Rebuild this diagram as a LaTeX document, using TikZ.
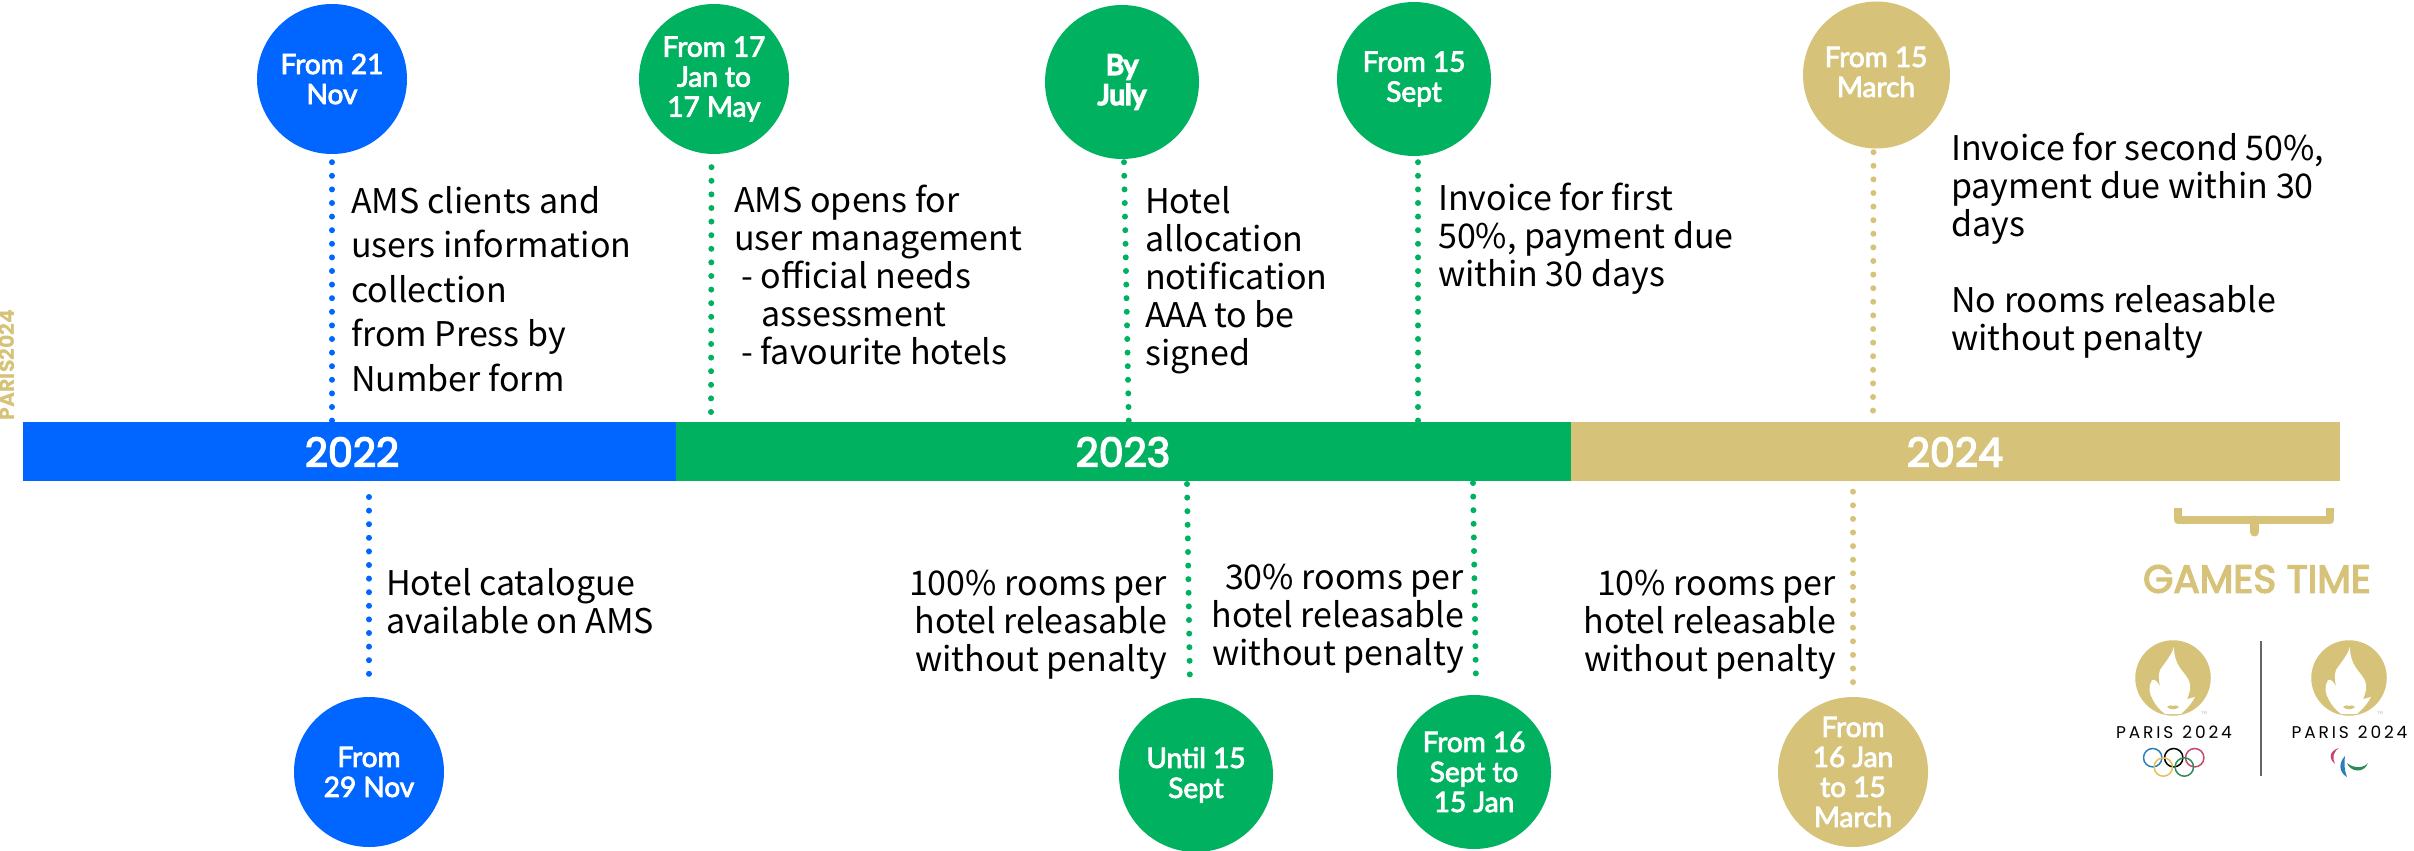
\documentclass[tikz,border=0pt]{standalone}
\usepackage{fontspec}
\usetikzlibrary{calc}
\setmainfont{Noto Sans CJK SC}
\newfontfamily\disp[FakeBold=3.5]{Poppins}
\newfontfamily\dispb{Poppins}
\newfontfamily\circf[FakeBold=3]{Lato}
\newfontfamily\circb[FakeBold=7]{Lato}
\definecolor{pblue}{HTML}{0066FF}
\definecolor{pgreen}{HTML}{00B25F}
\definecolor{pgold}{HTML}{D6C278}
\tikzset{
  x=1pt,y=-1pt,
  datecircle/.style={circle,minimum size=#1,inner sep=0pt,align=center,text=white,font=\circf\fontsize{28}{30}\selectfont},
  barbox/.style={rectangle,minimum height=59pt,inner sep=0pt,anchor=west},
  yeartext/.style={text=white,inner sep=0pt,font=\disp\fontsize{40}{42}\selectfont},
  dots/.style={line width=6pt,line cap=round,dash pattern=on 0pt off 13.6pt},
  bodyl/.style={anchor=west,align=left,inner sep=0pt,text=black,font=\fontsize{34}{#1}\selectfont},
  bodyr/.style={anchor=east,align=right,inner sep=0pt,text=black,font=\fontsize{34}{#1}\selectfont},
  parislabel/.style={inner sep=0pt,text=black,font=\dispb\fontsize{17}{17}\selectfont},
}
\newcommand{\parislogo}[3]{%
  \begin{scope}[shift={(#1,#2)}]
    \node[circle,fill=pgold,minimum size=75.5pt,inner sep=0pt] (#3disc) at (0,0) {};
    \fill[white] (1,-31) .. controls (-3,-20) and (-8,-16) .. (-13,-8)
      .. controls (-15,-3) and (-14,3) .. (-13,9)
      .. controls (-15,4) and (-18,1) .. (-21,2)
      .. controls (-25,8) and (-24,16) .. (-20,22)
      .. controls (-17,28) and (-13,32) .. (-8,36)
      -- (8,36)
      .. controls (12,32) and (17,28) .. (22,19)
      .. controls (18,20) and (15,21) .. (14,21)
      .. controls (17,14) and (19,8) .. (15,1)
      .. controls (11,-7) and (1,-12) .. (1,-31) -- cycle;
    \fill[pgold] (-6,29) .. controls (-3,27) and (-1,27) .. (0,28)
      .. controls (1,27) and (3,27) .. (6,29)
      .. controls (3,32) and (-3,32) .. (-6,29) -- cycle;
  \end{scope}}
\begin{document}
\begin{tikzpicture}
\useasboundingbox (0,0) rectangle (2414,851);
% bar
\node[barbox,fill=pblue,minimum width=653pt] (b22) at (23,451) {};
\node[barbox,fill=pgreen,minimum width=895pt] (b23) at (676,451) {};
\node[barbox,fill=pgold,minimum width=769pt] (b24) at (1571,451) {};
\node[yeartext] (y22) at (352,452) {2022};
\node[yeartext] (y23) at (1123,452) {2023};
\node[yeartext] (y24) at (1955,452) {2024};
% circles
\node[datecircle=150pt,fill=pblue] (c1) at (332,79) {From 21\\Nov};
\node[datecircle=150pt,fill=pgreen] (c2) at (714,79) {From 17\\Jan to\\17 May};
\node[datecircle=154pt,fill=pgreen,font=\circb\fontsize{28}{30}\selectfont] (c3) at (1122,82) {By\\July};
\node[datecircle=154pt,fill=pgreen] (c4) at (1414,79) {From 15\\Sept};
\node[datecircle=147pt,fill=pgold] (c5) at (1876.5,75) {};
\node[text=white,align=center,inner sep=0pt,font=\circf\fontsize{28}{30}\selectfont] (c5t) at (1876,72) {From 15\\March};
\node[datecircle=150pt,fill=pblue] (c6) at (369,772) {From\\29 Nov};
\node[datecircle=154pt,fill=pgreen] (c7) at (1196,775) {Until 15\\Sept};
\node[datecircle=154pt,fill=pgreen] (c8) at (1474,772) {From 16\\Sept to\\15 Jan};
\node[datecircle=150pt,fill=pgold] (c9) at (1853,772) {From\\16 Jan\\to 15\\March};
% connector ends
\coordinate (e1) at (332,421);
\coordinate (e2) at (711,416);
\coordinate (e3) at (1129,433);
\coordinate (e4) at (1418,433);
\coordinate (e5) at (1873,413);
\coordinate (e6) at (369,497);
\coordinate (e7) at (1187,484);
\coordinate (e8) at (1473,483);
\coordinate (e9) at (1853,491.7);
\draw[dots,pblue] ($(c1.south)+(0,8)$) -- (e1);
\draw[dots,pgreen] ($(c2.south)+(-2.5,13)$) -- (e2);
\draw[dots,pgreen] ($(c3.south)+(2,3)$) -- (e3);
\draw[dots,pgreen] ($(c4.south)+(4,6)$) -- (e4);
\draw[dots,pgold] ($(c5.south)+(-3,3.5)$) -- (e5);
\draw[dots,pblue] (e6) -- ($(c6.north)+(0,-10)$);
\draw[dots,pgreen] (e7) -- ($(c7.north)+(-6,-10)$);
\draw[dots,pgreen] (e8) -- ($(c8.north)+(2,-8)$);
\draw[dots,pgold] (e9) -- ($(c9.north)+(0,-1.5)$);
% texts
\node[bodyl=44.6] (t1) at (351,289) {AMS clients and\\users information\\collection\\from Press by\\Number form};
\node[bodyl=38] (t2) at (734,275) {AMS opens for\\user management\\\hspace*{7pt}- official needs\\\hspace*{27pt}assessment\\\hspace*{7pt}- favourite hotels};
\node[bodyl=38] (t3) at (1145,280) {Hotel\\allocation\\notification\\AAA to be\\signed};
\node[bodyl=38] (t4) at (1438,239) {Invoice for first\\50\%, payment due\\within 30 days};
\node[bodyl=38] (t5) at (1951,246) {Invoice for second 50\%,\\payment due within 30\\days\\[38pt]No rooms releasable\\without penalty};
\node[bodyl=38] (t6) at (386,601) {Hotel catalogue\\available on AMS};
\node[bodyr=38] (t7) at (1167,625) {100\% rooms per\\hotel releasable\\without penalty};
\node[bodyr=38] (t8) at (1464,619) {30\% rooms per\\hotel releasable\\without penalty};
\node[bodyr=38] (t9) at (1836,625) {10\% rooms per\\hotel releasable\\without penalty};
% side label
\node[rotate=90,text=pgold,inner sep=0pt,font=\dispb\bfseries\fontsize{20.5}{21}\selectfont] (side) at (6.5,365) {PARIS2024};
% games time
\draw[pgold,line width=8pt,line join=round] (2178,508) -- (2178,520) -- (2330,520) -- (2330,508);
\draw[pgold,line width=9pt,line cap=round] (2254.5,520) -- (2254.5,532);
\node[text=pgold,inner sep=0pt,font=\disp\fontsize{39}{40}\selectfont] (games) at (2257,579) {GAMES TIME};
% logos
\parislogo{2173}{678}{la}
\parislogo{2349}{678}{lb}
\node[inner sep=0pt,font=\fontsize{4}{4}\selectfont,text=gray!60] (tma) at (2204,713) {TM};
\node[inner sep=0pt,font=\fontsize{4}{4}\selectfont,text=gray!60] (tmb) at (2380,713) {TM};
\draw[gray!80!black,line width=1.2pt] (2261,641) -- (2261,776);
\node[parislabel] (pa) at (2174,732) {P\,A\,R\,I\,S\ \ 2\,0\,2\,4};
\node[parislabel] (pb) at (2349.5,732) {P\,A\,R\,I\,S\ \ 2\,0\,2\,4};
% rings
\definecolor{rblue}{HTML}{2A7FB8}
\definecolor{rred}{HTML}{C8486B}
\definecolor{ryellow}{HTML}{E6BE5A}
\definecolor{rgreen}{HTML}{2E8B57}
\foreach \cx/\cy/\col in {2152.7/757.7/rblue,2173.7/757.7/black,2194.7/757.7/rred,2163.3/767/ryellow,2184.3/767/rgreen}
  \draw[\col,line width=1.5pt] (\cx,\cy) circle[radius=9.2];
% agitos
\fill[rred] (2339,748) .. controls (2331,750) and (2327,757) .. (2335,764) .. controls (2332,758) and (2333,752) .. (2339,748) -- cycle;
\fill[rblue] (2345,756) .. controls (2339,762) and (2338,772) .. (2347,777) .. controls (2344,770) and (2344,762) .. (2345,756) -- cycle;
\fill[rgreen] (2347,763) .. controls (2350,772) and (2364,774) .. (2368,763) .. controls (2364,768) and (2354,769) .. (2347,763) -- cycle;
\end{tikzpicture}
\end{document}
